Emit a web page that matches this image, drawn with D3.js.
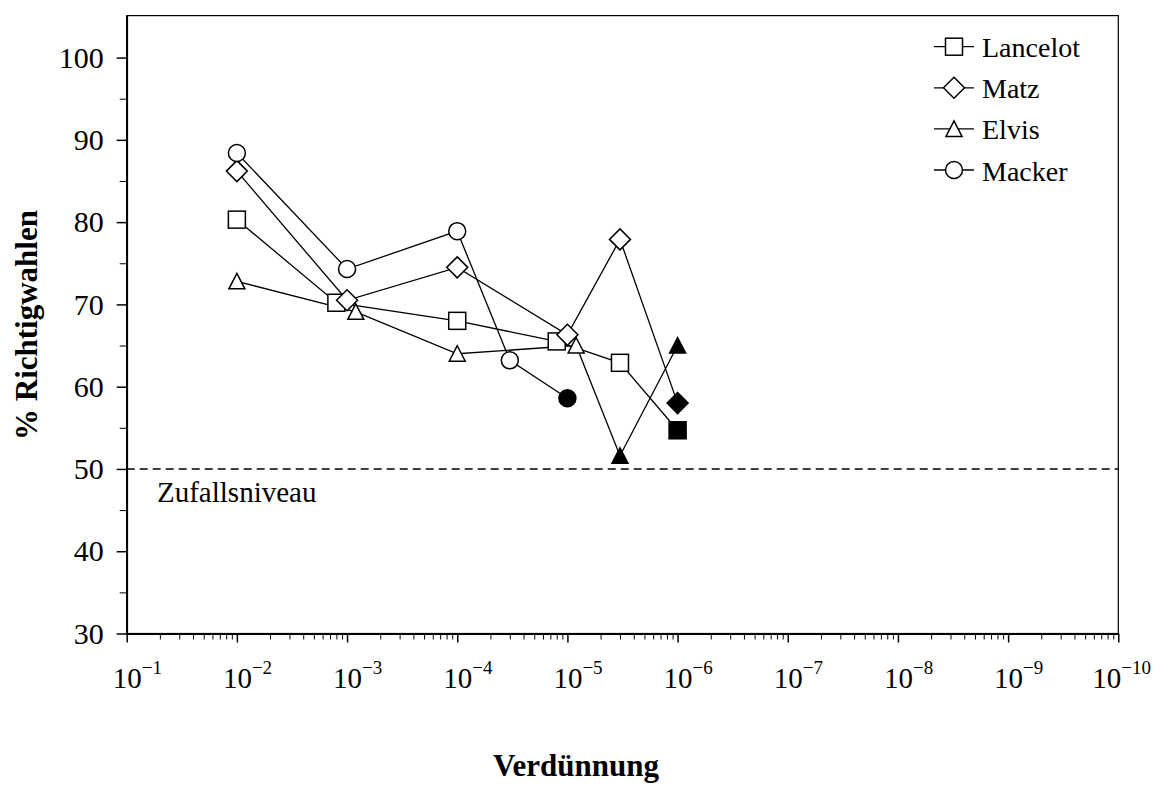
<!DOCTYPE html>
<html>
<head>
<meta charset="utf-8">
<script src="https://cdn.jsdelivr.net/npm/d3@7"></script>
<style>
  body { margin: 0; background: #fff; }
  svg { display: block; font-family: "Liberation Serif", "Times New Roman", serif; }
</style>
</head>
<body>
<svg id="chart"></svg>
<script>
// dilution steps are stored as the denominator (100 -> 10^-2)
const lancelotX = [100, 800, 10000, 80000, 300000, 1000000];
const lancelotY = [80.3, 70.2, 68.0, 65.5, 62.9, 54.7];
const lancelotFilled = [false, false, false, false, false, true];

const matzX = [100, 1000, 10000, 100000, 300000, 1000000];
const matzY = [86.2, 70.5, 74.5, 66.3, 77.9, 58.0];
const matzFilled = [false, false, false, false, false, true];

const elvisX = [100, 1200, 10000, 120000, 300000, 1000000];
const elvisY = [72.8, 69.1, 64.0, 65.0, 51.6, 65.0];
const elvisFilled = [false, false, false, false, true, true];

const mackerX = [100, 1000, 10000, 30000, 100000];
const mackerY = [88.4, 74.3, 78.9, 63.2, 58.6];
const mackerFilled = [false, false, false, false, true];

const seriesNames = ["Lancelot", "Matz", "Elvis", "Macker"];
const seriesSymbols = ["square", "diamond", "triangle", "circle"];

const yTicks = [30, 40, 50, 60, 70, 80, 90, 100];
const xDecades = [1, 2, 3, 4, 5, 6, 7, 8, 9, 10];
const chanceLevel = 50;

const width = 1155, height = 798;
const margin = {top: 15.6, right: 36.7, bottom: 164.5, left: 126.7};

const svg = d3.select("#chart")
    .attr("width", width)
    .attr("height", height);

const x = d3.scaleLog()
    .domain([10, 1e10])
    .range([margin.left, width - margin.right]);

const y = d3.scaleLinear()
    .domain([30, 105.1])
    .range([height - margin.bottom, margin.top]);

// frame (top + right)
svg.append("rect")
    .attr("x", x.range()[0])
    .attr("y", y.range()[1])
    .attr("width", x.range()[1] - x.range()[0])
    .attr("height", y.range()[0] - y.range()[1])
    .attr("fill", "none")
    .attr("stroke", "#000")
    .attr("stroke-width", 1.2);

// Y axis
const yMinor = d3.range(35, 100, 10);
svg.append("g")
    .attr("transform", `translate(${margin.left},0)`)
    .call(d3.axisLeft(y).tickValues(yMinor).tickSize(7).tickFormat(""))
    .call(g => g.select(".domain").remove());

svg.append("g")
    .attr("transform", `translate(${margin.left},0)`)
    .call(d3.axisLeft(y).tickValues(yTicks).tickSize(10).tickSizeOuter(0).tickPadding(13))
    .call(g => g.select(".domain").attr("stroke-width", 1.8))
    .call(g => g.selectAll("line").attr("stroke-width", 1.5))
    .call(g => g.selectAll("text")
        .attr("font-family", "Liberation Serif")
        .attr("font-size", 30)
        .attr("fill", "#000"));

// X axis, log scale with minor ticks at 2..9
const xMinor = [];
xDecades.slice(0, -1).forEach(d => {
  for (let k = 2; k <= 9; k++) xMinor.push(k * Math.pow(10, d));
});
svg.append("g")
    .attr("transform", `translate(0,${height - margin.bottom})`)
    .call(d3.axisBottom(x).tickValues(xMinor).tickSize(6).tickFormat(""))
    .call(g => g.select(".domain").remove());

svg.append("g")
    .attr("transform", `translate(0,${height - margin.bottom})`)
    .call(d3.axisBottom(x).tickValues(xDecades.map(d => Math.pow(10, d))).tickSize(9).tickSizeOuter(0).tickFormat(""))
    .call(g => g.select(".domain").attr("stroke-width", 2.2))
    .call(g => g.selectAll("line").attr("stroke-width", 1.5));

// tick labels 10^-n (the last one pulled in so it fits)
const xLabels = svg.append("g")
    .attr("font-size", 29)
    .selectAll("text")
    .data(xDecades)
    .join("text")
      .attr("x", d => x(Math.pow(10, d)) - (d == 10 ? 26 : 14))
      .attr("y", 688);
xLabels.append("tspan").text("10");
xLabels.append("tspan")
    .attr("font-size", 19)
    .attr("dy", -14)
    .text(d => "\u2212" + d);

// chance level
svg.append("line")
    .attr("x1", x.range()[0])
    .attr("x2", x.range()[1])
    .attr("y1", y(chanceLevel))
    .attr("y2", y(chanceLevel))
    .attr("stroke", "#000")
    .attr("stroke-width", 1.5)
    .attr("stroke-dasharray", "8,5");

svg.append("text")
    .attr("x", 157)
    .attr("y", 502)
    .attr("font-size", 29)
    .text("Zufallsniveau");

// symbols
function drawSymbol(g, type, cx, cy, filled) {
  const fill = filled ? "#000" : "#fff";
  let el;
  if (type == "square") {
    el = g.append("rect").attr("x", cx - 8.5).attr("y", cy - 8.5).attr("width", 17).attr("height", 17);
  } else if (type == "circle") {
    el = g.append("circle").attr("cx", cx).attr("cy", cy).attr("r", 8.5);
  } else if (type == "diamond") {
    el = g.append("path").attr("d", `M${cx},${cy - 10.5}L${cx + 10.5},${cy}L${cx},${cy + 10.5}L${cx - 10.5},${cy}Z`);
  } else {
    el = g.append("path").attr("d", `M${cx},${cy - 8}L${cx + 8},${cy + 7.5}L${cx - 8},${cy + 7.5}Z`);
  }
  el.attr("fill", fill).attr("stroke", "#000").attr("stroke-width", 1.5);
}

const allSeries = [
  {xs: lancelotX, ys: lancelotY, filled: lancelotFilled},
  {xs: matzX, ys: matzY, filled: matzFilled},
  {xs: elvisX, ys: elvisY, filled: elvisFilled},
  {xs: mackerX, ys: mackerY, filled: mackerFilled}
];

const line = d3.line()
    .x(d => x(d[0]))
    .y(d => y(d[1]));

// lines first, then the markers on top
allSeries.forEach(s => {
  const pts = s.xs.map((v, i) => [v, s.ys[i]]);
  svg.append("path")
      .attr("d", line(pts))
      .attr("fill", "none")
      .attr("stroke", "#000")
      .attr("stroke-width", 1.3);
});
allSeries.forEach((s, si) => {
  const g = svg.append("g");
  s.xs.forEach((v, i) => drawSymbol(g, seriesSymbols[si], x(v), y(s.ys[i]), s.filled[i]));
});

// legend
const legend = svg.append("g");
seriesNames.forEach((name, i) => {
  const ly = 46.7 + i * 41.1;
  legend.append("line")
      .attr("x1", 934).attr("x2", 974)
      .attr("y1", ly).attr("y2", ly)
      .attr("stroke", "#000").attr("stroke-width", 1.3);
  drawSymbol(legend, seriesSymbols[i], 954, ly, false);
  legend.append("text")
      .attr("x", 982)
      .attr("y", ly + 10.5)
      .attr("font-size", 28)
      .text(name);
});

// axis titles
svg.append("text")
    .attr("transform", "translate(37,325) rotate(-90)")
    .attr("text-anchor", "middle")
    .attr("font-size", 31)
    .attr("font-weight", "bold")
    .text("% Richtigwahlen");

svg.append("text")
    .attr("x", 576)
    .attr("y", 776)
    .attr("text-anchor", "middle")
    .attr("font-size", 31)
    .attr("font-weight", "bold")
    .text("Verdünnung");
</script>
</body>
</html>
